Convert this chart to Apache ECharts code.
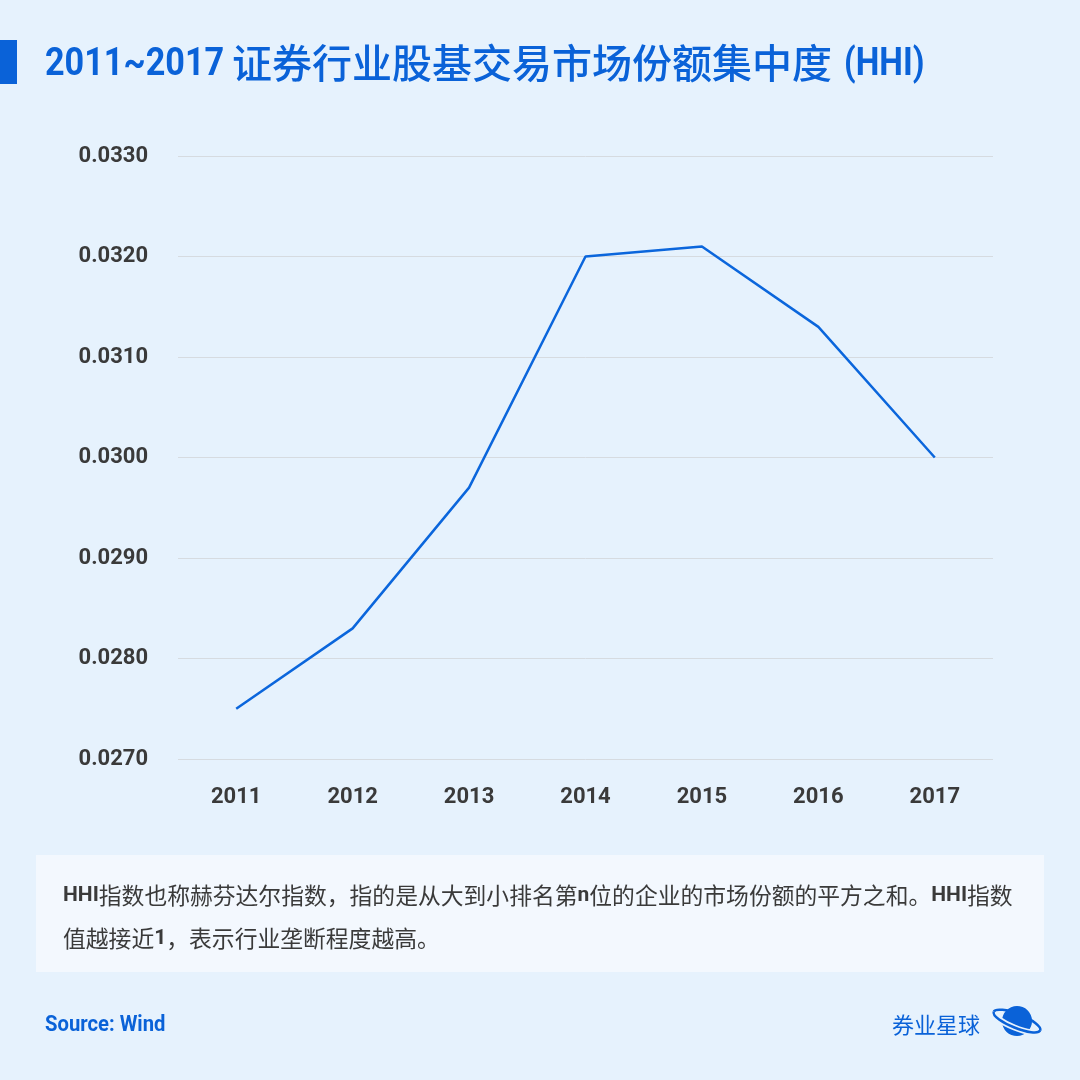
<!DOCTYPE html>
<html>
<head>
<meta charset="utf-8">
<script src="https://cdn.jsdelivr.net/npm/echarts@6/dist/echarts.min.js"></script>
<style>
  html, body { margin: 0; padding: 0; background: #e6f2fd; }
  #chart { width: 1080px; height: 1080px; }
</style>
</head>
<body>
<div id="chart"></div>
<script>
var years = ['2011', '2012', '2013', '2014', '2015', '2016', '2017'];
var hhi = [0.0275, 0.0283, 0.0297, 0.0320, 0.0321, 0.0313, 0.0300];
var yTicks = { min: 0.027, max: 0.033, step: 0.001 };

var blue = '#0a62d8';
var bg = '#e6f2fd';
var latin = 'Roboto, "Noto Sans CJK SC", sans-serif';
var cjk = '"Noto Sans CJK SC", sans-serif';

// 说明文字：n = 英文/数字，c = 中文
var noteRich = '{n|HHI}{c|指数也称赫芬达尔指数，指的是从大到小排名第}{n|n}{c|位的企业的市场份额的平方之和。}{n|HHI}{c|指数}\n' +
  '{c|值越接近}{n|1}{c|，表示行业垄断程度越高。}';

var myChart = echarts.init(document.getElementById('chart'));
myChart.setOption({
  backgroundColor: bg,
  animation: false,
  grid: { left: 178, right: 87, top: 156, bottom: 321, containLabel: false },
  xAxis: {
    type: 'category',
    data: years,
    boundaryGap: true,
    axisLine: { show: false },
    axisTick: { show: false },
    axisLabel: { margin: 27, color: '#3a3a3a', fontSize: 22, fontWeight: 'bold', fontFamily: latin }
  },
  yAxis: {
    type: 'value',
    min: yTicks.min,
    max: yTicks.max,
    interval: yTicks.step,
    axisLine: { show: false },
    axisTick: { show: false },
    splitLine: { lineStyle: { color: '#d6dbe0', width: 1 } },
    axisLabel: {
      margin: 30, color: '#3a3a3a', fontSize: 22, fontWeight: 'bold', fontFamily: latin,
      padding: [4, 0, 0, 0],
      formatter: function (v) { return v.toFixed(4); }
    }
  },
  series: [{
    type: 'line',
    data: hhi,
    showSymbol: false,
    lineStyle: { color: '#0b66dc', width: 2.5 }
  }],
  graphic: [
    { type: 'rect', shape: { x: 0, y: 40, width: 17, height: 44 }, style: { fill: blue } },
    {
      type: 'text', x: 45, y: 65, scaleX: 0.9,
      style: { text: '2011~2017', fill: blue, verticalAlign: 'middle', font: 'bold 38px ' + latin }
    },
    {
      type: 'text', x: 232, y: 63,
      style: { text: '证券行业股基交易市场份额集中度', fill: blue, verticalAlign: 'middle', font: '500 40px ' + cjk }
    },
    {
      type: 'text', x: 844, y: 65, scaleX: 0.88,
      style: { text: '(HHI)', fill: blue, verticalAlign: 'middle', font: 'bold 38px ' + latin }
    },
    {
      type: 'rect', shape: { x: 36, y: 855, width: 1008, height: 117 },
      style: { fill: '#f3f8fe' }
    },
    {
      type: 'text', x: 63, y: 874,
      style: {
        text: noteRich,
        rich: {
          n: { fill: '#3a3a3a', font: 'bold 21px ' + latin, lineHeight: 43 },
          c: { fill: '#3a3a3a', font: '22.8px ' + cjk, lineHeight: 43 }
        }
      }
    },
    {
      type: 'text', x: 45, y: 1025, scaleX: 0.92,
      style: { text: 'Source: Wind', fill: blue, verticalAlign: 'middle', font: 'bold 22px ' + latin }
    },
    {
      type: 'text', x: 892, y: 1025,
      style: { text: '券业星球', fill: blue, verticalAlign: 'middle', font: '22px ' + cjk }
    },
    {
      type: 'group', x: 1017, y: 1021, rotation: -0.38,
      children: [
        // 星球：整圈环 -> 球体 -> 前半圈环（先铺一道底色做间隙）
        { type: 'ellipse', shape: { cx: 0, cy: 0, rx: 25, ry: 7 }, style: { fill: 'none', stroke: blue, lineWidth: 2.5 } },
        { type: 'circle', shape: { cx: 0, cy: 0, r: 15 }, style: { fill: blue } },
        {
          type: 'bezierCurve',
          shape: { x1: -25, y1: 0, x2: 25, y2: 0, cpx1: -25, cpy1: 9.3, cpx2: 25, cpy2: 9.3 },
          style: { fill: 'none', stroke: bg, lineWidth: 6 }
        },
        {
          type: 'bezierCurve',
          shape: { x1: -25, y1: 0, x2: 25, y2: 0, cpx1: -25, cpy1: 9.3, cpx2: 25, cpy2: 9.3 },
          style: { fill: 'none', stroke: blue, lineWidth: 2.5 }
        }
      ]
    }
  ]
});
</script>
</body>
</html>
